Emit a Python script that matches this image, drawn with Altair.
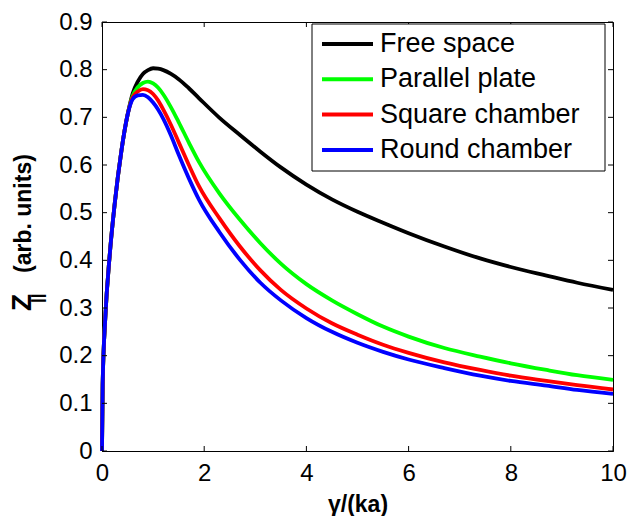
import altair as alt
import pandas as pd

# normalised longitudinal impedance vs gamma/(ka)
x_vals = [0, 0.013, 0.065, 0.15, 0.25, 0.38, 0.5, 0.6, 0.7, 0.8, 0.9, 1.0, 1.1, 1.2, 1.35,
          1.5, 1.7, 1.9, 2.3, 2.7, 3.1, 3.5, 4.0, 4.5, 5.0, 5.5, 6.0, 6.7, 7.4, 8.0, 8.7,
          9.3, 10.0]

free_space = [0, 0.14, 0.28, 0.41, 0.52, 0.63, 0.705, 0.750, 0.775, 0.791, 0.799, 0.803,
              0.802, 0.799, 0.791, 0.780, 0.761, 0.740, 0.699, 0.663, 0.628, 0.595, 0.559,
              0.528, 0.502, 0.479, 0.457, 0.429, 0.404, 0.386, 0.368, 0.353, 0.338]
parallel_plate = [0, 0.14, 0.28, 0.41, 0.52, 0.63, 0.705, 0.745, 0.763, 0.772, 0.775, 0.771,
                  0.762, 0.748, 0.721, 0.690, 0.647, 0.606, 0.540, 0.485, 0.436, 0.393, 0.350,
                  0.316, 0.287, 0.261, 0.240, 0.216, 0.198, 0.184, 0.170, 0.159, 0.149]
square_chamber = [0, 0.14, 0.28, 0.41, 0.52, 0.63, 0.705, 0.742, 0.754, 0.759, 0.757, 0.749,
                  0.735, 0.716, 0.684, 0.648, 0.600, 0.555, 0.488, 0.429, 0.379, 0.338, 0.299,
                  0.268, 0.244, 0.223, 0.206, 0.186, 0.170, 0.158, 0.147, 0.138, 0.129]
round_chamber = [0, 0.14, 0.28, 0.41, 0.52, 0.63, 0.705, 0.738, 0.746, 0.747, 0.742, 0.731,
                 0.716, 0.697, 0.662, 0.622, 0.572, 0.527, 0.459, 0.401, 0.353, 0.316, 0.279,
                 0.250, 0.227, 0.208, 0.192, 0.174, 0.158, 0.147, 0.137, 0.128, 0.120]

series_names = ["Free space", "Parallel plate", "Square chamber", "Round chamber"]
series_colors = ["#000000", "#00ff00", "#ff0000", "#0000ff"]
series_values = [free_space, parallel_plate, square_chamber, round_chamber]

x_ticks = [0, 2, 4, 6, 8, 10]
y_ticks = [0, 0.1, 0.2, 0.3, 0.4, 0.5, 0.6, 0.7, 0.8, 0.9]

FONT = "Liberation Sans"
W, H = 511, 429

rows = []
for name, ys in zip(series_names, series_values):
    for xv, yv in zip(x_vals, ys):
        rows.append({"gamma_ka": xv, "Z": yv, "series": name})
df = pd.DataFrame(rows)

xscale = alt.Scale(domain=[0, 10], nice=False, zero=False)
yscale = alt.Scale(domain=[0, 0.9], nice=False, zero=False)
cscale = alt.Scale(domain=series_names, range=series_colors)

x_axis = alt.Axis(values=x_ticks, ticks=False, tickSize=0, grid=False, labelFlush=False,
                  labelFontSize=24, labelFont=FONT, labelColor="black",
                  labelPadding=10, domainColor="black",
                  title="γ/(ka)", titleFont=FONT, titleFontSize=23,
                  titleFontWeight="bold", titleColor="black", titlePadding=8)
y_axis = alt.Axis(values=y_ticks, ticks=False, tickSize=0, grid=False, labelFlush=False,
                  labelExpr="datum.value == 0 ? '0' : format(datum.value, '.1f')",
                  labelFontSize=24, labelFont=FONT, labelColor="black",
                  labelPadding=10, domainColor="black", title=None)

lines = alt.Chart(df).mark_line(strokeWidth=3.8, interpolate="monotone").encode(
    x=alt.X("gamma_ka:Q", scale=xscale, axis=x_axis, title="γ/(ka)"),
    y=alt.Y("Z:Q", scale=yscale, axis=y_axis, title=None),
    color=alt.Color("series:N", scale=cscale, legend=None),
)

# inward tick marks on all four sides of the box
ytick_df = pd.DataFrame({"Z": y_ticks})
xtick_df = pd.DataFrame({"gamma_ka": x_ticks})
yenc = alt.Y("Z:Q", scale=yscale, axis=y_axis, title=None)
xenc = alt.X("gamma_ka:Q", scale=xscale, axis=x_axis, title="γ/(ka)")
tick_left = alt.Chart(ytick_df).mark_rule(color="black", strokeWidth=1).encode(
    y=yenc, x=alt.value(0), x2=alt.value(5))
tick_right = alt.Chart(ytick_df).mark_rule(color="black", strokeWidth=1).encode(
    y=yenc, x=alt.value(W - 5), x2=alt.value(W))
tick_bottom = alt.Chart(xtick_df).mark_rule(color="black", strokeWidth=1).encode(
    x=xenc, y=alt.value(H - 5), y2=alt.value(H))
tick_top = alt.Chart(xtick_df).mark_rule(color="black", strokeWidth=1).encode(
    x=xenc, y=alt.value(0), y2=alt.value(5))

# boxed legend in the upper right corner
leg_df = pd.DataFrame({"series": series_names, "row": list(range(len(series_names)))})
LX0, LX1, LY0, LY1 = 210, 503, 2, 149
leg_box = alt.Chart(pd.DataFrame({"series": ["box"]})).mark_rect(
    fill="white", stroke="black", strokeWidth=1
).encode(x=alt.value(LX0), x2=alt.value(LX1), y=alt.value(LY0), y2=alt.value(LY1))
leg_base = alt.Chart(leg_df).transform_calculate(
    py="22 + 35.3 * datum.row"
)
leg_lines = leg_base.mark_rule(strokeWidth=4).encode(
    x=alt.value(220), x2=alt.value(271),
    y=alt.Y("py:Q", scale=None, axis=None),
    color=alt.Color("series:N", scale=cscale, legend=None),
)
leg_text = leg_base.mark_text(
    align="left", baseline="middle", font=FONT, fontSize=27, color="black"
).encode(
    x=alt.value(278),
    y=alt.Y("py:Q", scale=None, axis=None),
    text="series:N",
)

# y-axis title: Z with a "||" subscript, then (arb. units)
title_df = pd.DataFrame({"t": ["Z"]})
t_z = alt.Chart(title_df).mark_text(
    text="Z", angle=270, align="left", baseline="alphabetic",
    font=FONT, fontSize=28, fontWeight="bold", color="black"
).encode(x=alt.value(-71), y=alt.value(289))
t_sub = alt.Chart(title_df).mark_text(
    text="||", angle=270, align="left", baseline="alphabetic",
    font=FONT, fontSize=17, fontWeight="bold", color="black"
).encode(x=alt.value(-59), y=alt.value(281))
t_rest = alt.Chart(title_df).mark_text(
    text="(arb. units)", angle=270, align="left", baseline="alphabetic",
    font=FONT, fontSize=23, fontWeight="bold", color="black"
).encode(x=alt.value(-71), y=alt.value(251))

chart = alt.layer(
    lines, tick_left, tick_right, tick_bottom, tick_top,
    leg_box, leg_lines, leg_text, t_z, t_sub, t_rest
).properties(
    width=W, height=H,
    autosize=alt.AutoSizeParams(type="none"),
    padding={"left": 102, "top": 22, "right": 18, "bottom": 65},
    background="white",
).configure_view(stroke="black", strokeWidth=1)

chart.save("out.html", embed_options={"renderer": "svg", "actions": False})
